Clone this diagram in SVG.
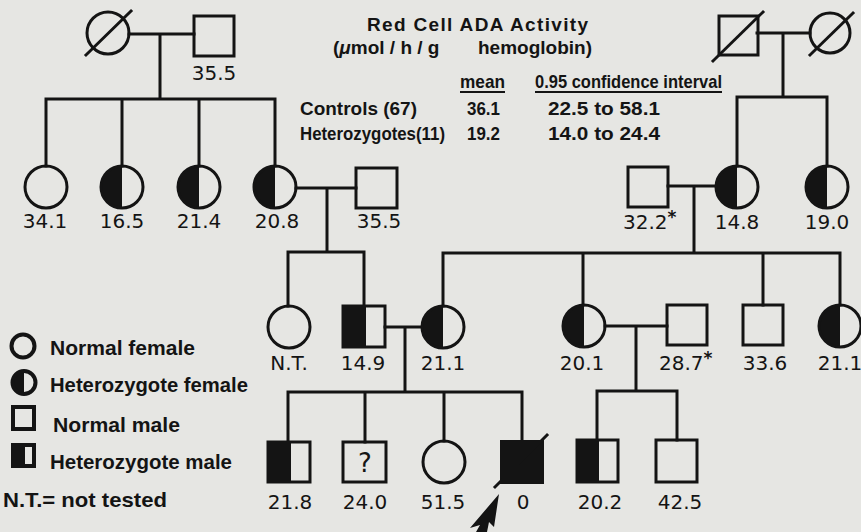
<svg xmlns="http://www.w3.org/2000/svg" width="861" height="532" viewBox="0 0 861 532">
<style>
.ln{stroke:#141414;stroke-width:3;fill:none;stroke-linecap:square}
.sym{stroke:#141414;stroke-width:3;fill:none}
.blk{fill:#141414}
.num{font-family:"DejaVu Sans",sans-serif;font-size:20px;fill:#141414;text-anchor:middle}
.hd{font-family:"Liberation Sans",Arial,sans-serif;font-weight:bold;font-size:19px;fill:#141414}
.tb{font-family:"Liberation Sans",Arial,sans-serif;font-weight:bold;font-size:19px;fill:#141414}
.lg{font-family:"Liberation Sans",Arial,sans-serif;font-weight:bold;font-size:21px;fill:#141414}
.star{font-size:17px;font-weight:bold}
</style>
<rect x="0" y="0" width="861" height="532" fill="#e6e6e3"/>

<g id="connectors" class="ln">
<path d="M129 34H194M160 34V99M46 99H275M46 99V166M122 99V166M199 99V166M275 99V166"/>
<path d="M296 188H356M327 188V252M288 252H364M288 252V306M364 252V306"/>
<path d="M757 33H810M783 33V97M737 97H827M737 97V166M827 97V166"/>
<path d="M668 186H716M694 186V253M443 253H840M443 253V306M583 253V305M763 253V305M840 253V305"/>
<path d="M385 327H422M405 327V392M288 392H522M288 392V442M365 392V442M444 392V441M522 392V441"/>
<path d="M605 326H667M636 326V391M597 391H677M597 391V440M677 391V440"/>
</g>

<g id="gp1-female">
<circle class="sym" cx="108" cy="33" r="21"/>
<line class="ln" x1="86" y1="55" x2="131" y2="11"/>
</g>
<g id="gp1-male">
<rect class="sym" x="194" y="16" width="40" height="40"/>
<text class="num" x="214" y="80">35.5</text>
</g>
<g id="gp2-male">
<rect class="sym" x="719" y="16" width="39" height="39"/>
<line class="ln" x1="713" y1="61" x2="763" y2="12"/>
</g>
<g id="gp2-female">
<circle class="sym" cx="830" cy="33" r="20"/>
<line class="ln" x1="810" y1="55" x2="853" y2="13"/>
</g>

<g id="p-34-1">
<circle class="sym" cx="46" cy="187" r="21"/>
<text class="num" x="45" y="228">34.1</text>
</g>
<g id="p-16-5">
<path class="blk" d="M122 166A21 21 0 0 0 122 208Z"/>
<circle class="sym" cx="122" cy="187" r="21"/>
<text class="num" x="122" y="228">16.5</text>
</g>
<g id="p-21-4">
<path class="blk" d="M199 166A21 21 0 0 0 199 208Z"/>
<circle class="sym" cx="199" cy="187" r="21"/>
<text class="num" x="199" y="228">21.4</text>
</g>
<g id="p-20-8">
<path class="blk" d="M275 166A21 21 0 0 0 275 208Z"/>
<circle class="sym" cx="275" cy="187" r="21"/>
<text class="num" x="277" y="228">20.8</text>
</g>
<g id="p-35-5b">
<rect class="sym" x="356" y="168" width="41" height="40"/>
<text class="num" x="379" y="228">35.5</text>
</g>
<g id="p-32-2">
<rect class="sym" x="628" y="167" width="40" height="40"/>
<text class="num" x="623" y="229" style="text-anchor:start">32.2<tspan class="star" dy="-6">*</tspan></text>
</g>
<g id="p-14-8">
<path class="blk" d="M737 166A21 21 0 0 0 737 208Z"/>
<circle class="sym" cx="737" cy="187" r="21"/>
<text class="num" x="737" y="229">14.8</text>
</g>
<g id="p-19-0">
<path class="blk" d="M827 166A21 21 0 0 0 827 208Z"/>
<circle class="sym" cx="827" cy="187" r="21"/>
<text class="num" x="827" y="229">19.0</text>
</g>

<g id="p-nt">
<circle class="sym" cx="289" cy="327" r="21"/>
<text class="num" x="289" y="370">N.T.</text>
</g>
<g id="p-14-9">
<rect class="blk" x="343" y="306" width="23" height="41"/>
<rect class="sym" x="343" y="306" width="42" height="41"/>
<text class="num" x="363" y="370">14.9</text>
</g>
<g id="p-21-1a">
<path class="blk" d="M443 306A21 21 0 0 0 443 348Z"/>
<circle class="sym" cx="443" cy="327" r="21"/>
<text class="num" x="443" y="370">21.1</text>
</g>
<g id="p-20-1">
<path class="blk" d="M584 305A21 21 0 0 0 584 347Z"/>
<circle class="sym" cx="584" cy="326" r="21"/>
<text class="num" x="582" y="370">20.1</text>
</g>
<g id="p-28-7">
<rect class="sym" x="667" y="305" width="40" height="40"/>
<text class="num" x="659" y="370" style="text-anchor:start">28.7<tspan class="star" dy="-6">*</tspan></text>
</g>
<g id="p-33-6">
<rect class="sym" x="743" y="305" width="40" height="40"/>
<text class="num" x="765" y="370">33.6</text>
</g>
<g id="p-21-1b">
<path class="blk" d="M840 305A21 21 0 0 0 840 347Z"/>
<circle class="sym" cx="840" cy="326" r="21"/>
<text class="num" x="840" y="370">21.1</text>
</g>

<g id="p-21-8">
<rect class="blk" x="268" y="442" width="23" height="40"/>
<rect class="sym" x="268" y="442" width="42" height="40"/>
<text class="num" x="290" y="509">21.8</text>
</g>
<g id="p-24-0">
<rect class="sym" x="343" y="442" width="43" height="40"/>
<text x="365" y="472" style="font-family:'DejaVu Sans',sans-serif;font-size:26px;fill:#141414;text-anchor:middle">?</text>
<text class="num" x="365" y="509">24.0</text>
</g>
<g id="p-51-5">
<circle class="sym" cx="444" cy="462" r="21"/>
<text class="num" x="443" y="509">51.5</text>
</g>
<g id="p-0">
<rect class="blk" x="500" y="440" width="44" height="44"/>
<line class="ln" x1="495" y1="487" x2="547" y2="435"/>
<text class="num" x="523" y="509">0</text>
</g>
<g id="proband-arrow">
<polygon class="blk" points="499,494 470,528 480,525 476,532 487,532 489,522 494,527"/>
</g>
<g id="p-20-2">
<rect class="blk" x="577" y="440" width="22" height="42"/>
<rect class="sym" x="577" y="440" width="41" height="42"/>
<text class="num" x="600" y="509">20.2</text>
</g>
<g id="p-42-5">
<rect class="sym" x="656" y="440" width="41" height="42"/>
<text class="num" x="680" y="509">42.5</text>
</g>

<g id="header">
<text class="hd" x="367" y="31" textLength="221" lengthAdjust="spacing">Red Cell ADA Activity</text>
<text class="hd" x="333" y="54">(<tspan font-style="italic">μ</tspan>mol / h / g<tspan x="478">hemoglobin)</tspan></text>
<text class="tb" x="460" y="88" textLength="45" lengthAdjust="spacingAndGlyphs">mean</text>
<text class="tb" x="535" y="88" textLength="187" lengthAdjust="spacingAndGlyphs">0.95 confidence interval</text>
<path class="ln" d="M460 92H505M535 92H722" style="stroke-width:2;stroke-linecap:butt"/>
<text class="tb" x="300" y="115" textLength="117" lengthAdjust="spacingAndGlyphs">Controls (67)</text>
<text class="tb" x="300" y="140" textLength="145" lengthAdjust="spacingAndGlyphs">Heterozygotes(11)</text>
<text class="tb" x="467" y="115" textLength="33" lengthAdjust="spacingAndGlyphs">36.1</text>
<text class="tb" x="467" y="140" textLength="33" lengthAdjust="spacingAndGlyphs">19.2</text>
<text class="tb" x="548" y="115" textLength="112" lengthAdjust="spacingAndGlyphs">22.5 to 58.1</text>
<text class="tb" x="548" y="140" textLength="112" lengthAdjust="spacingAndGlyphs">14.0 to 24.4</text>
</g>

<g id="legend">
<circle cx="23" cy="346" r="11.5" fill="none" stroke="#141414" stroke-width="4"/>
<text class="lg" x="50" y="355" textLength="145" lengthAdjust="spacingAndGlyphs">Normal female</text>
<path class="blk" d="M24 371A11.5 11.5 0 0 0 24 394Z"/>
<circle cx="24" cy="382.5" r="11.5" fill="none" stroke="#141414" stroke-width="4"/>
<text class="lg" x="50" y="392" textLength="198" lengthAdjust="spacingAndGlyphs">Heterozygote female</text>
<rect x="13" y="407" width="21" height="22" fill="none" stroke="#141414" stroke-width="4"/>
<text class="lg" x="53" y="432" textLength="127" lengthAdjust="spacingAndGlyphs">Normal male</text>
<rect class="blk" x="11" y="443" width="14" height="25"/>
<rect x="13" y="445" width="21" height="21" fill="none" stroke="#141414" stroke-width="4"/>
<text class="lg" x="50" y="469" textLength="182" lengthAdjust="spacingAndGlyphs">Heterozygote male</text>
<text class="lg" x="3" y="507" textLength="164" lengthAdjust="spacingAndGlyphs">N.T.= not tested</text>
</g>
</svg>
